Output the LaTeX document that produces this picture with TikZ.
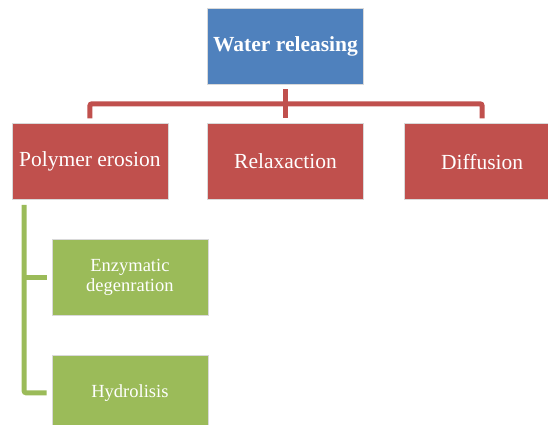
\documentclass[tikz,border=0pt]{standalone}
\usepackage{fontspec}
\setmainfont{Liberation Serif}
\usetikzlibrary{positioning, calc}
\definecolor{topblue}{HTML}{4F81BD}
\definecolor{midred}{HTML}{C0504D}
\definecolor{leafgreen}{HTML}{9BBB59}
\tikzset{
  box/.style={draw=white!85!black, line width=0.6pt, text=white, align=center,
    minimum width=156pt, minimum height=76pt, inner sep=0pt},
  node distance=39pt
}

\begin{document}
\begin{tikzpicture}[x=1pt, y=-1pt]
      \tikzstyle{redlink}=[draw=midred, line width=5pt, rounded corners=2pt]
      \tikzstyle{greenlink}=[draw=leafgreen, line width=5pt, rounded corners=2pt]
      \useasboundingbox (0,0) rectangle (548,425);
      \clip (0,0) rectangle (548,425);

      \node[box, fill=topblue, font=\fontsize{21.5}{25}\selectfont\bfseries] (water) at (285.5,46) {Water releasing};
      \node[box, fill=midred, font=\fontsize{21.5}{25}\selectfont, below = of water] (relax) {Relaxaction};
      \node[box, fill=midred, font=\fontsize{21.5}{25}\selectfont, left = of relax] (poly) {Polymer erosion};
      \node[box, fill=midred, font=\fontsize{21.5}{25}\selectfont, right = 40pt of relax] (diff) {Diffusion};
      \node[box, fill=leafgreen, font=\fontsize{18.5}{20.5}\selectfont, below = of poly, xshift=40pt] (enzy) {Enzymatic\\degenration};
      \node[box, fill=leafgreen, font=\fontsize{18.5}{20.5}\selectfont, below = of enzy] (hydro) {Hydrolisis};

      \coordinate (bar) at ($(water.south)!0.5!(relax.north)$);
      \coordinate (trunk) at ([xshift=12.5pt]poly.south west);

      \draw[redlink] ([yshift=-5pt]water.south) -- ([yshift=5pt]relax.north);
      \draw[redlink] ([yshift=5pt]poly.north) |- (bar) -| ([yshift=5pt]diff.north);

      \draw[greenlink] ([yshift=-5pt]trunk) |- ([xshift=-5pt]hydro.west);
      \draw[greenlink] ([xshift=-5pt]enzy.west) -- (enzy.west -| trunk);
    \end{tikzpicture}
\end{document}
